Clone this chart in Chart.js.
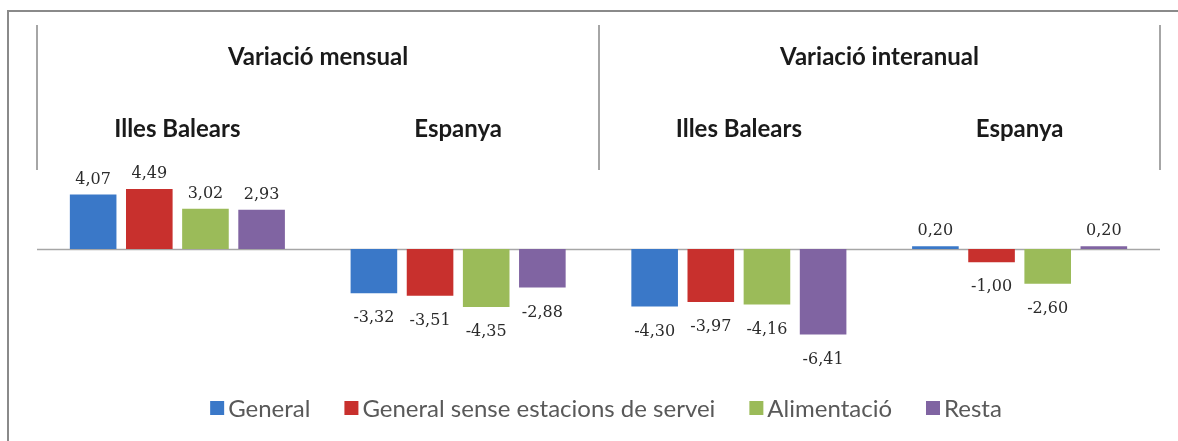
<!DOCTYPE html>
<html>
<head>
<meta charset="utf-8">
<script src="https://cdn.jsdelivr.net/npm/chart.js@4.4.0/dist/chart.umd.min.js"></script>
<style>
  html, body { margin: 0; padding: 0; background: #fff; }
</style>
</head>
<body>
<canvas id="chart" width="1178" height="441"></canvas>
<script>
const regions = ['Illes Balears', 'Espanya', 'Illes Balears', 'Espanya'];
const periods = ['Variació mensual', 'Variació interanual'];

const general = [4.07, -3.32, -4.30, 0.20];
const generalSenseEstacions = [4.49, -3.51, -3.97, -1.00];
const alimentacio = [3.02, -4.35, -4.16, -2.60];
const resta = [2.93, -2.88, -6.41, 0.20];

const seriesNames = ['General', 'General sense estacions de servei', 'Alimentació', 'Resta'];
const seriesColors = ['#3a78c8', '#c8302d', '#9bbb59', '#8064a2'];

const fmt = v => v.toFixed(2).replace('.', ',');

// header lines, labels, zero line, value labels and legend
const decor = {
  id: 'decor',
  beforeDatasetsDraw(chart) {
    const { ctx, chartArea, scales: { y } } = chart;
    const y0 = Math.round(y.getPixelForValue(0)) + 0.5;
    ctx.save();
    ctx.strokeStyle = '#a6a6a6';
    ctx.lineWidth = 1.5;
    ctx.beginPath();
    ctx.moveTo(chartArea.left, y0);
    ctx.lineTo(chartArea.right, y0);
    ctx.stroke();
    ctx.restore();
  },
  afterDraw(chart) {
    const { ctx, scales: { x } } = chart;
    ctx.save();

    // outer frame
    ctx.strokeStyle = '#8a8a8a';
    ctx.lineWidth = 2;
    ctx.beginPath();
    ctx.moveTo(8, 441);
    ctx.lineTo(8, 11);
    ctx.lineTo(1178, 11);
    ctx.stroke();

    // separators of the two periods
    ctx.strokeStyle = '#a6a6a6';
    ctx.lineWidth = 2;
    const seps = [-0.5, 1.5, 3.5].map(v => Math.round(x.getPixelForValue(v)));
    seps.forEach(px => {
      ctx.beginPath();
      ctx.moveTo(px, 25);
      ctx.lineTo(px, 170);
      ctx.stroke();
    });

    ctx.fillStyle = '#1a1a1a';
    ctx.textAlign = 'center';
    ctx.textBaseline = 'middle';
    ctx.font = 'bold 24px Lato';
    periods.forEach((p, i) => {
      ctx.fillText(p, (seps[i] + seps[i + 1]) / 2, 57);
    });
    regions.forEach((r, i) => {
      ctx.fillText(r, x.getPixelForValue(i), 129);
    });

    // value labels
    ctx.font = '16px "DejaVu Serif"';
    ctx.fillStyle = '#2b2b2b';
    chart.data.datasets.forEach((ds, di) => {
      chart.getDatasetMeta(di).data.forEach((bar, i) => {
        const v = ds.data[i];
        if (v >= 0) {
          ctx.textBaseline = 'bottom';
          ctx.fillText(fmt(v), bar.x, bar.y - 7);
        } else {
          ctx.textBaseline = 'top';
          ctx.fillText(fmt(v), bar.x, bar.y + 17);
        }
      });
    });

    // legend
    ctx.font = '24px Lato';
    ctx.textAlign = 'left';
    ctx.textBaseline = 'middle';
    const box = 14, gapBox = 4, gapItem = 34, ly = 408;
    const widths = chart.data.datasets.map(ds => box + gapBox + ctx.measureText(ds.label).width);
    const total = widths.reduce((a, b) => a + b, 0) + gapItem * (widths.length - 1);
    let lx = 606 - total / 2;
    chart.data.datasets.forEach((ds, di) => {
      ctx.fillStyle = ds.backgroundColor;
      ctx.fillRect(lx, ly - box / 2, box, box);
      ctx.fillStyle = '#595959';
      ctx.fillText(ds.label, lx + box + gapBox, ly + 1);
      lx += widths[di] + gapItem;
    });

    ctx.restore();
  }
};

const seriesData = [general, generalSenseEstacions, alimentacio, resta];

new Chart(document.getElementById('chart'), {
  type: 'bar',
  data: {
    labels: regions,
    datasets: seriesData.map((d, i) => ({
      label: seriesNames[i],
      data: d,
      backgroundColor: seriesColors[i],
      borderWidth: 0,
      categoryPercentage: 0.8,
      barPercentage: 0.83
    }))
  },
  options: {
    responsive: false,
    animation: false,
    layout: { padding: { left: 37, right: 18, top: 175.5, bottom: 98.5 } },
    scales: {
      x: { display: false },
      y: { display: false, min: -7, max: 5.5 }
    },
    plugins: {
      legend: { display: false },
      tooltip: { enabled: false }
    }
  },
  plugins: [decor]
});
</script>
</body>
</html>
